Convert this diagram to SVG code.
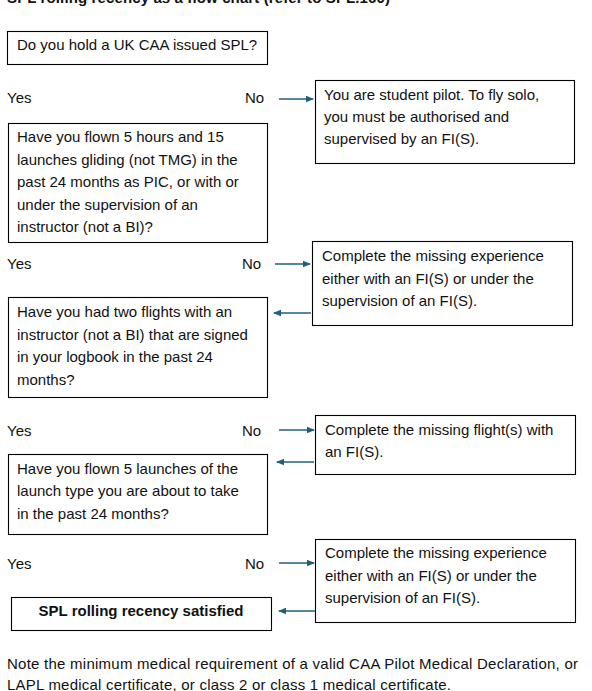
<svg xmlns="http://www.w3.org/2000/svg" width="592" height="691" viewBox="0 0 592 691">
<defs>
<marker id="ah" markerWidth="8" markerHeight="8" refX="7" refY="4" orient="auto" markerUnits="userSpaceOnUse">
<path d="M0,0.8 L8,4 L0,7.2 Z" fill="#1f5f7a"/>
</marker>
<style>
.box{fill:#fff;stroke:#000;stroke-width:1.1}
.t{font-family:"Liberation Sans",Arial,sans-serif;font-size:15px;fill:#111}
.b{font-family:"Liberation Sans",Arial,sans-serif;font-size:15px;font-weight:bold;fill:#111}
.c{stroke:#1f5f7a;stroke-width:1.6;fill:none;marker-end:url(#ah)}
</style>
</defs>
<rect width="592" height="691" fill="#fff"/>
<text class="b" x="7" y="3" font-size="16" textLength="383">SPL rolling recency as a flow chart (refer to SPL.160)</text>

<g id="q1"><rect class="box" x="7.5" y="31.5" width="260" height="33"/><text class="t" x="17" y="50">Do you hold a UK CAA issued SPL?</text></g>
<g id="l1"><text class="t" x="7" y="103">Yes</text><text class="t" x="245" y="103">No</text></g>
<g id="r1"><rect class="box" x="315.5" y="80.5" width="259" height="83"/>
<text class="t" x="324" y="100">You are student pilot. To fly solo,</text>
<text class="t" x="324" y="122">you must be authorised and</text>
<text class="t" x="324" y="144">supervised by an FI(S).</text></g>

<g id="q2"><rect class="box" x="8.5" y="123.5" width="259" height="119"/>
<text class="t" x="17" y="142">Have you flown 5 hours and 15</text>
<text class="t" x="17" y="165">launches gliding (not TMG) in the</text>
<text class="t" x="17" y="187">past 24 months as PIC, or with or</text>
<text class="t" x="17" y="210">under the supervision of an</text>
<text class="t" x="17" y="232">instructor (not a BI)?</text></g>
<g id="l2"><text class="t" x="7" y="269">Yes</text><text class="t" x="242" y="269">No</text></g>
<g id="r2"><rect class="box" x="312.5" y="241.5" width="260" height="84"/>
<text class="t" x="322" y="261">Complete the missing experience</text>
<text class="t" x="322" y="284">either with an FI(S) or under the</text>
<text class="t" x="322" y="306">supervision of an FI(S).</text></g>

<g id="q3"><rect class="box" x="8.5" y="297.5" width="259" height="100"/>
<text class="t" x="17" y="317">Have you had two flights with an</text>
<text class="t" x="17" y="340">instructor (not a BI) that are signed</text>
<text class="t" x="17" y="362">in your logbook in the past 24</text>
<text class="t" x="17" y="385">months?</text></g>
<g id="l3"><text class="t" x="7" y="436">Yes</text><text class="t" x="242" y="436">No</text></g>
<g id="r3"><rect class="box" x="315.5" y="415.5" width="260" height="59"/>
<text class="t" x="325" y="435">Complete the missing flight(s) with</text>
<text class="t" x="325" y="457">an FI(S).</text></g>

<g id="q4"><rect class="box" x="8.5" y="454.5" width="259" height="80"/>
<text class="t" x="17" y="474">Have you flown 5 launches of the</text>
<text class="t" x="17" y="496">launch type you are about to take</text>
<text class="t" x="17" y="519">in the past 24 months?</text></g>
<g id="l4"><text class="t" x="7" y="569">Yes</text><text class="t" x="245" y="569">No</text></g>
<g id="r4"><rect class="box" x="315.5" y="539.5" width="260" height="83"/>
<text class="t" x="325" y="558">Complete the missing experience</text>
<text class="t" x="325" y="581">either with an FI(S) or under the</text>
<text class="t" x="325" y="603">supervision of an FI(S).</text></g>

<g id="done"><rect class="box" x="11.5" y="597.5" width="260" height="33"/>
<text class="b" x="141" y="616" text-anchor="middle">SPL rolling recency satisfied</text></g>

<g id="connectors">
<line class="c" x1="279" y1="99" x2="313" y2="99"/>
<line class="c" x1="275" y1="264" x2="310" y2="264"/>
<line class="c" x1="311" y1="313" x2="274" y2="313"/>
<line class="c" x1="279" y1="430" x2="314" y2="430"/>
<line class="c" x1="314" y1="462" x2="277" y2="462"/>
<line class="c" x1="279" y1="563" x2="314" y2="563"/>
<line class="c" x1="315" y1="611" x2="279" y2="611"/>
</g>

<g id="note">
<text class="t" x="7" y="669" textLength="571">Note the minimum medical requirement of a valid CAA Pilot Medical Declaration, or</text>
<text class="t" x="7" y="690" textLength="444">LAPL medical certificate, or class 2 or class 1 medical certificate.</text>
</g>
</svg>
